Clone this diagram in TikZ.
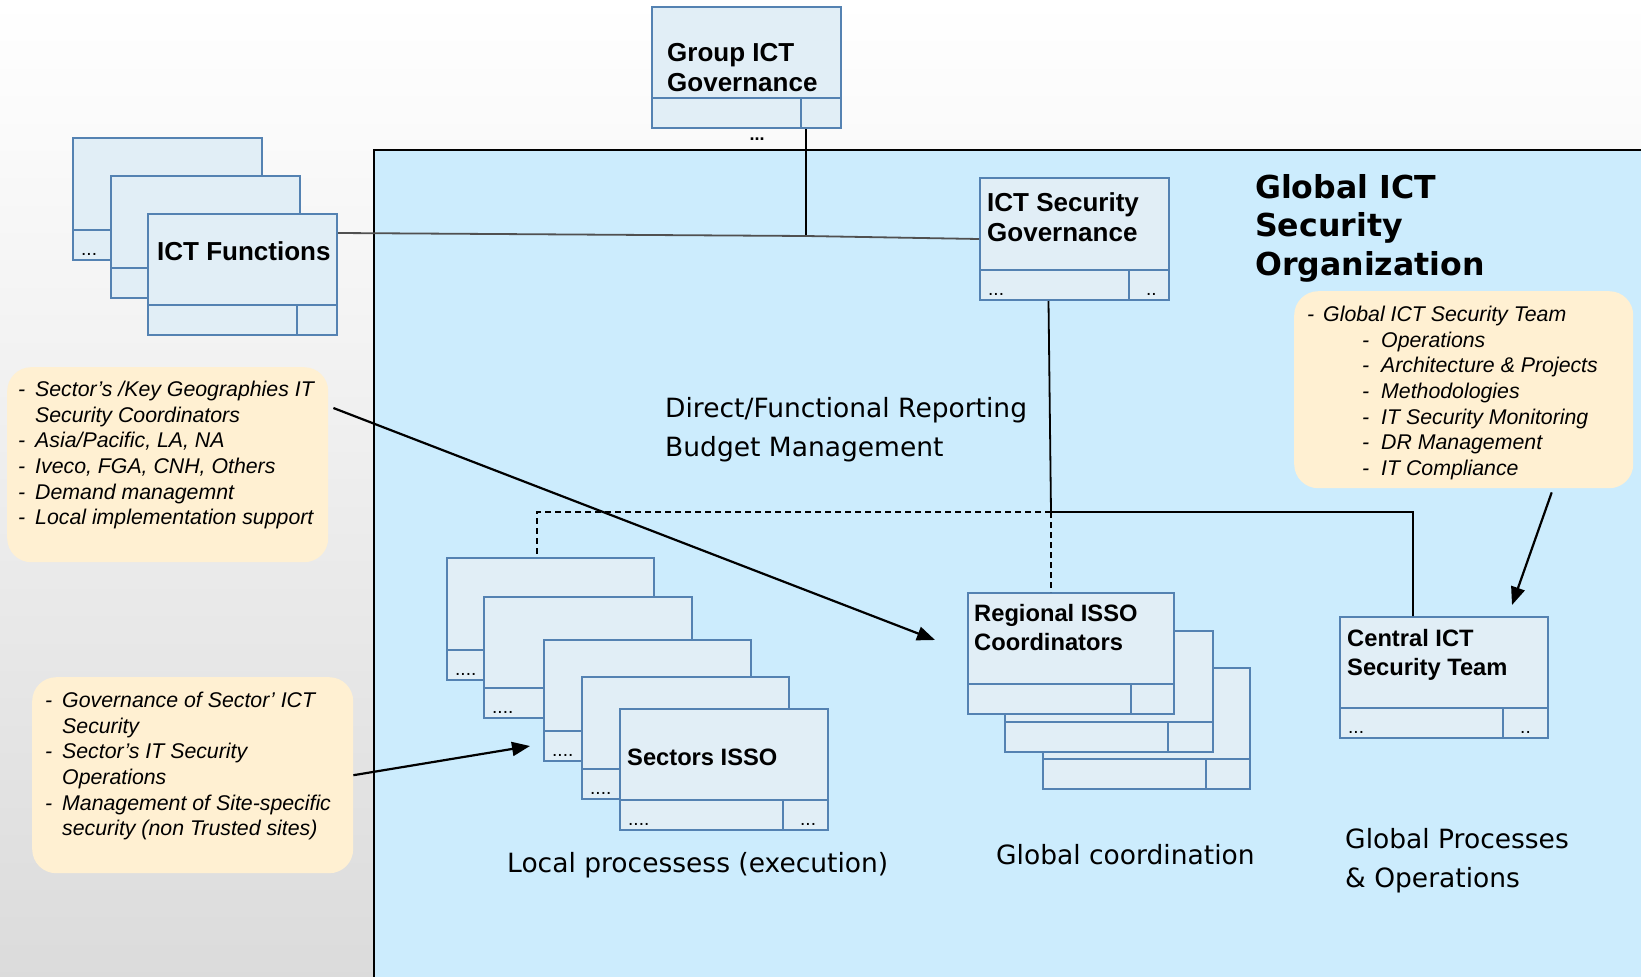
\documentclass[tikz,border=0pt]{standalone}
\usepackage{fontspec}
\setmainfont{Liberation Sans}
\newfontfamily\verdana{DejaVu Sans}
\usetikzlibrary{positioning,arrows.meta}

\definecolor{areablue}{RGB}{204,236,253}
\definecolor{boxfill}{RGB}{225,238,246}
\definecolor{boxline}{RGB}{84,130,178}
\definecolor{notefill}{RGB}{255,240,210}
\definecolor{funline}{RGB}{80,80,80}

\tikzset{
  orgbox/.style={draw=boxline, fill=boxfill, line width=2pt, inner sep=0pt, anchor=north west},
  orgcell/.style={draw=boxline, fill=boxfill, line width=2pt, inner sep=0pt},
  celldots/.style={inner sep=0pt, anchor=base west, font=\fontsize{19}{22}\selectfont},
  boxlabel/.style={inner sep=0pt, anchor=north west, align=left, font=\bfseries\fontsize{26}{30}\selectfont},
  smalllabel/.style={boxlabel, font=\bfseries\fontsize{23.7}{29}\selectfont},
  note/.style={fill=notefill, draw=none, rounded corners=24pt, inner sep=0pt, anchor=north west},
  notetext/.style={inner sep=0pt, anchor=north west, align=left, font=\itshape\fontsize{21.3}{25.6}\selectfont},
  plainlabel/.style={inner sep=0pt, anchor=north west, align=left, font=\verdana\fontsize{26.5}{39}\selectfont},
  link/.style={line width=1.8pt},
  pointer/.style={line width=2.2pt, -{Triangle[length=18pt,width=14pt]}},
}

% box with a split band at the bottom
\newcommand{\orgbox}[8]{%
  \node[orgbox, minimum width=#4pt, minimum height=#5pt] (#1) at (#2,#3) {};
  \node[orgcell, anchor=south west, minimum width=#4pt-#6pt, minimum height=30pt] (#1-l) at (#1.south west) {};
  \node[orgcell, anchor=south east, minimum width=#6pt, minimum height=30pt] (#1-r) at (#1.south east) {};
  \node[celldots] (#1-ld) at ([xshift=9pt,yshift=6pt]#1-l.south west) {#7};
  \node[celldots] (#1-rd) at ([xshift=18pt,yshift=6pt]#1-r.south west) {#8};
}
\newcommand{\dashitem}[1]{\makebox[#1][l]{-}}

\begin{document}
\begin{tikzpicture}[x=1pt, y=-1pt]

	\useasboundingbox (0,0) rectangle (1641,977);
	\shade[top color=white, bottom color=black!14] (0,0) rectangle (1641,977);

	% the global organization area
	\node[fill=areablue, inner sep=0pt, anchor=north west, minimum width=1267pt, minimum height=827pt] (area) at (374,150) {};
	\draw[link] (area.south west) -- (area.north west) -- (area.north east);

	\node[inner sep=0pt, anchor=north west, align=left, font=\verdana\bfseries\fontsize{31.6}{38.5}\selectfont] (title) at (1255,174) {Global ICT\\Security\\Organization};

	% boxes
	\orgbox{grp}{651}{6}{189}{121}{40}{}{}
	\node[boxlabel] (grp-t) at (667,43) {Group ICT\\Governance};
	\node[inner sep=0pt, font=\bfseries\fontsize{18}{20}\selectfont] (grpdots) at (757,139) {...};

	\orgbox{fun1}{72}{137}{189}{122}{40}{...}{}
	\orgbox{fun2}{110}{175}{189}{122}{40}{}{}
	\orgbox{fun3}{147}{213}{189}{121}{40}{}{}
	\node[boxlabel] (fun3-t) at (157,241) {ICT Functions};

	\orgbox{secgov}{979}{177}{189}{122}{40}{...}{..}
	\node[boxlabel] (secgov-t) at (987,192) {ICT Security\\Governance};

	\orgbox{sec1}{446}{557}{207}{122}{45}{....}{}
	\orgbox{sec2}{483}{596}{208}{121}{45}{....}{}
	\orgbox{sec3}{543}{639}{207}{121}{45}{....}{}
	\orgbox{sec4}{581}{676}{207}{122}{45}{....}{}
	\orgbox{sec5}{619}{708}{208}{121}{45}{....}{...}
	\node[smalllabel] (sec5-t) at (627,749) {Sectors ISSO};

	\orgbox{reg3}{1042}{667}{207}{121}{44}{}{}
	\orgbox{reg2}{1004}{630}{208}{121}{45}{}{}
	\orgbox{reg1}{967}{592}{206}{121}{43}{}{}
	\node[smalllabel] (reg1-t) at (974,604) {Regional ISSO\\Coordinators};

	\orgbox{central}{1339}{616}{208}{121}{45}{...}{..}
	\node[smalllabel] (central-t) at (1347,629) {Central ICT\\Security Team};

	% notes
	\node[note, minimum width=321pt, minimum height=195pt] (keynote) at (7,367) {};
	\node[notetext] (keynote-t) at (18,381) {\dashitem{17pt}Sector’s /Key Geographies IT\\
		\hspace*{17pt}Security Coordinators\\
		\dashitem{17pt}Asia/Pacific, LA, NA\\
		\dashitem{17pt}Iveco, FGA, CNH, Others\\
		\dashitem{17pt}Demand managemnt\\
		\dashitem{17pt}Local implementation support};

	\node[note, minimum width=321pt, minimum height=196pt] (sectnote) at (32,677) {};
	\node[notetext] (sectnote-t) at (45,692) {\dashitem{17pt}Governance of Sector’ ICT\\
		\hspace*{17pt}Security\\
		\dashitem{17pt}Sector’s IT Security\\
		\hspace*{17pt}Operations\\
		\dashitem{17pt}Management of Site-specific\\
		\hspace*{17pt}security (non Trusted sites)};

	\node[note, minimum width=339pt, minimum height=197pt] (teamnote) at (1294,291) {};
	\node[notetext] (teamnote-t) at (1307,306) {\dashitem{16pt}Global ICT Security Team\\
		\hspace*{55pt}\dashitem{19pt}Operations\\
		\hspace*{55pt}\dashitem{19pt}Architecture \& Projects\\
		\hspace*{55pt}\dashitem{19pt}Methodologies\\
		\hspace*{55pt}\dashitem{19pt}IT Security Monitoring\\
		\hspace*{55pt}\dashitem{19pt}DR Management\\
		\hspace*{55pt}\dashitem{19pt}IT Compliance};

	% plain labels
	\node[plainlabel] (reporting) at (665,397) {Direct/Functional Reporting\\Budget Management};
	\node[plainlabel] (local) at (507,852) {Local processess (execution)};
	\node[plainlabel] (globalco) at (996,844) {Global coordination};
	\node[plainlabel] (globalpr) at (1345,828) {Global Processes\\\& Operations};

	% connectors
	\coordinate (grpjoin) at (806,236);
	\coordinate (regjoin) at (1051,512);
	\coordinate (locjoin) at (537,512);
	\coordinate (cenjoin) at (1413,512);

	\draw[link] (grpjoin |- grp.south) -- (grpjoin);
	\draw[link, draw=funline] ([yshift=-20pt]fun3.north east) -- (grpjoin) -- ([yshift=-62pt]secgov.north west);
	\draw[link] ([xshift=-26pt]secgov.south) -- (regjoin) -- (cenjoin) -- (cenjoin |- central.north);
	\draw[link, dash pattern=on 6pt off 4pt] (regjoin) -- (locjoin) -- (locjoin |- sec1.north);
	\draw[link, dash pattern=on 6pt off 4pt] (regjoin) -- (regjoin |- reg1.north);

	\draw[pointer] ([xshift=5pt,yshift=-41pt]keynote.north east) -- ([xshift=-32pt,yshift=-48pt]reg1.north west);
	\draw[pointer] (sectnote.east) -- ([xshift=-13pt,yshift=-107pt]sec3.north west);
	\draw[pointer] ([xshift=88pt,yshift=-4pt]teamnote.south) -- ([xshift=-37pt,yshift=11pt]central.north east);

\end{tikzpicture}
\end{document}
